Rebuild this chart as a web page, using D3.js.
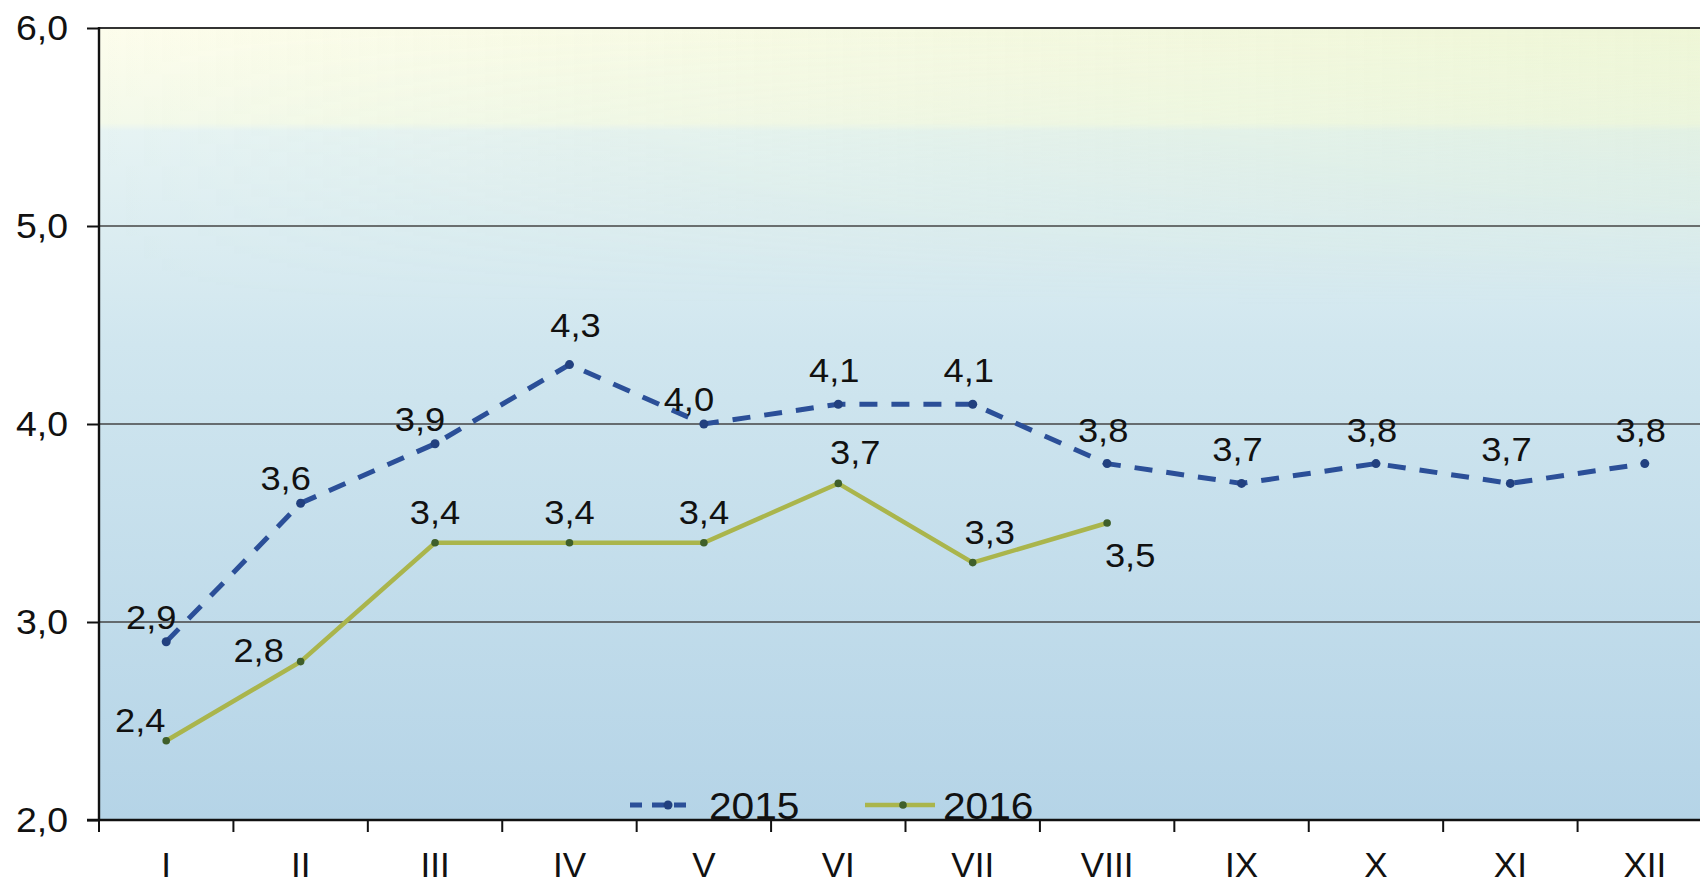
<!DOCTYPE html>
<html>
<head>
<meta charset="utf-8">
<script src="https://cdn.jsdelivr.net/npm/d3@7"></script>
<style>
  html, body { margin: 0; padding: 0; background: #fff; }
  svg { display: block; font-family: "Liberation Sans", Arial, sans-serif; }
  .wide { transform-box: fill-box; transform-origin: center; transform: scaleX(1.1); }
  .ywide { transform-box: fill-box; transform-origin: right; transform: scaleX(1.07); }
  .lwide { transform-box: fill-box; transform-origin: left; transform: scaleX(1.1); }
</style>
</head>
<body>
<div id="chart"></div>
<script>
// data
var months = ["I", "II", "III", "IV", "V", "VI", "VII", "VIII", "IX", "X", "XI", "XII"];
var values2015 = [2.9, 3.6, 3.9, 4.3, 4.0, 4.1, 4.1, 3.8, 3.7, 3.8, 3.7, 3.8];
var values2016 = [2.4, 2.8, 3.4, 3.4, 3.4, 3.7, 3.3, 3.5];
var yTicks = [2, 3, 4, 5, 6];
// where each data label sits relative to its point
var place2015 = ["upleft", "upleft", "upleft", "upright", "upleft", "above", "above", "above", "above", "above", "above", "above"];
var place2016 = ["left", "left2", "above", "above", "above", "right", "right", "below"];

var width = 1700, height = 886;
var margin = { top: 28, right: -12, bottom: 66, left: 99 };
var fontFamily = "Liberation Sans, Arial, sans-serif";

var svg = d3.select("#chart")
            .append("svg")
            .attr("width", width)
            .attr("height", height);

var x = d3.scaleBand()
          .domain(months)
          .range([margin.left, width - margin.right]);

var y = d3.scaleLinear()
          .domain([2, 6])
          .range([height - margin.bottom, margin.top]);

var fmt = function (v) { return d3.format(".1f")(v).replace(".", ","); };

// background gradient
var defs = svg.append("defs");
var grad = defs.append("linearGradient")
               .attr("id", "bg")
               .attr("x1", 0).attr("y1", 0).attr("x2", 0).attr("y2", 1);
[[0, "#fdfdec"], [0.12, "#f3f9ea"], [0.13, "#e6f3f3"], [0.4, "#d0e6ef"], [1, "#b5d4e7"]]
  .forEach(function (s) {
      grad.append("stop").attr("offset", s[0]).attr("stop-color", s[1]);
  });
var grad2 = defs.append("linearGradient")
                .attr("id", "bg2")
                .attr("x1", 0).attr("y1", 0).attr("x2", 1).attr("y2", 0);
grad2.append("stop").attr("offset", 0).attr("stop-color", "#d4eab0").attr("stop-opacity", 0);
grad2.append("stop").attr("offset", 1).attr("stop-color", "#d4eab0").attr("stop-opacity", 0.35);
var grad3 = defs.append("linearGradient")
                .attr("id", "fade")
                .attr("x1", 0).attr("y1", 0).attr("x2", 0).attr("y2", 1);
grad3.append("stop").attr("offset", 0).attr("stop-color", "#fff").attr("stop-opacity", 1);
grad3.append("stop").attr("offset", 0.35).attr("stop-color", "#fff").attr("stop-opacity", 0);
var mask = defs.append("mask").attr("id", "topmask");
mask.append("rect")
    .attr("x", margin.left).attr("y", y(6))
    .attr("width", width - margin.left).attr("height", y(2) - y(6))
    .attr("fill", "url(#fade)");

svg.append("rect")
   .attr("x", margin.left)
   .attr("y", y(6))
   .attr("width", width - margin.left)
   .attr("height", y(2) - y(6))
   .attr("fill", "url(#bg)");

svg.append("rect")
   .attr("x", margin.left)
   .attr("y", y(6))
   .attr("width", width - margin.left)
   .attr("height", y(2) - y(6))
   .attr("fill", "url(#bg2)")
   .attr("mask", "url(#topmask)");

// gridlines
svg.append("g")
   .selectAll("line")
   .data(yTicks.filter(function (d) { return d > 2; }))
   .enter()
   .append("line")
   .attr("x1", margin.left)
   .attr("x2", width)
   .attr("y1", function (d) { return y(d); })
   .attr("y2", function (d) { return y(d); })
   .attr("stroke", function (d) { return d === 6 ? "#333" : "#444"; })
   .attr("stroke-width", function (d) { return d === 6 ? 2.2 : 1.4; });

// axes
var yAxis = d3.axisLeft(y)
              .tickValues(yTicks)
              .tickSize(12)
              .tickPadding(19)
              .tickFormat(fmt);

var gy = svg.append("g")
            .attr("transform", "translate(" + margin.left + ",0)")
            .call(yAxis);
gy.select(".domain").remove();
gy.selectAll(".tick line").attr("stroke", "#111").attr("stroke-width", 2);
gy.selectAll(".tick text")
  .attr("class", "ywide")
  .attr("font-size", 35)
  .attr("fill", "#111")
  .attr("font-family", fontFamily);

svg.append("line")
   .attr("x1", margin.left).attr("x2", margin.left)
   .attr("y1", y(6) - 1).attr("y2", y(2) + 1)
   .attr("stroke", "#111").attr("stroke-width", 2.4);

var xAxis = d3.axisBottom(x)
              .tickSize(0)
              .tickPadding(32);

var gx = svg.append("g")
            .attr("transform", "translate(0," + y(2) + ")")
            .call(xAxis);
gx.select(".domain").remove();
gx.selectAll(".tick text")
  .attr("font-size", 35)
  .attr("fill", "#111")
  .attr("font-family", fontFamily);

svg.append("line")
   .attr("x1", margin.left - 12).attr("x2", width)
   .attr("y1", y(2)).attr("y2", y(2))
   .attr("stroke", "#111").attr("stroke-width", 2.4);

// band boundary ticks
svg.append("g")
   .selectAll("line")
   .data(months)
   .enter()
   .append("line")
   .attr("x1", function (d) { return x(d); })
   .attr("x2", function (d) { return x(d); })
   .attr("y1", y(2))
   .attr("y2", y(2) + 12)
   .attr("stroke", "#111")
   .attr("stroke-width", 2);

var cx = function (d, i) { return x(months[i]) + x.bandwidth() / 2; };

var line = d3.line()
             .x(function (d, i) { return cx(d, i); })
             .y(function (d) { return y(d); });

// 2015 series
svg.append("path")
   .datum(values2015)
   .attr("d", line)
   .attr("fill", "none")
   .attr("stroke", "#2b4f98")
   .attr("stroke-width", 5)
   .attr("stroke-dasharray", "18,14");

svg.append("g")
   .selectAll("circle")
   .data(values2015)
   .enter()
   .append("circle")
   .attr("cx", cx)
   .attr("cy", function (d) { return y(d); })
   .attr("r", 4.5)
   .attr("fill", "#22407f");

// 2016 series
svg.append("path")
   .datum(values2016)
   .attr("d", line)
   .attr("fill", "none")
   .attr("stroke", "#aab54c")
   .attr("stroke-width", 4.5);

svg.append("g")
   .selectAll("circle")
   .data(values2016)
   .enter()
   .append("circle")
   .attr("cx", cx)
   .attr("cy", function (d) { return y(d); })
   .attr("r", 3.8)
   .attr("fill", "#3f5f2a");

// label offsets by placement
var off = {
    upleft:  [-15, -13],
    upright: [6, -28],
    above:   [-4, -22],
    left:    [-26, -9],
    left2:   [-42, 0],
    above16: [0, -19],
    right:   [17, -19],
    below:   [23, 44]
};

svg.append("g")
   .selectAll("text")
   .data(values2015)
   .enter()
   .append("text")
   .attr("class", "wide")
   .attr("x", function (d, i) { return cx(d, i) + off[place2015[i]][0]; })
   .attr("y", function (d, i) { return y(d) + off[place2015[i]][1]; })
   .attr("text-anchor", "middle")
   .attr("font-size", 33)
   .attr("fill", "#111")
   .text(fmt);

svg.append("g")
   .selectAll("text")
   .data(values2016)
   .enter()
   .append("text")
   .attr("class", "wide")
   .attr("x", function (d, i) {
       var p = place2016[i] === "above" ? "above16" : place2016[i];
       return cx(d, i) + off[p][0];
   })
   .attr("y", function (d, i) {
       var p = place2016[i] === "above" ? "above16" : place2016[i];
       return y(d) + off[p][1];
   })
   .attr("text-anchor", "middle")
   .attr("font-size", 33)
   .attr("fill", "#111")
   .text(fmt);

// legend
var legend = svg.append("g").attr("transform", "translate(630," + (y(2) - 15) + ")");

legend.append("line")
      .attr("x1", 0).attr("x2", 63).attr("y1", 0).attr("y2", 0)
      .attr("stroke", "#2b4f98").attr("stroke-width", 5)
      .attr("stroke-dasharray", "12,10");
legend.append("circle").attr("cx", 38).attr("cy", 0).attr("r", 4.5).attr("fill", "#22407f");
legend.append("text")
      .attr("class", "lwide")
      .attr("x", 79).attr("y", 14)
      .attr("font-size", 37).attr("fill", "#111")
      .text("2015");

legend.append("line")
      .attr("x1", 235).attr("x2", 305).attr("y1", 0).attr("y2", 0)
      .attr("stroke", "#aab54c").attr("stroke-width", 4.5);
legend.append("circle").attr("cx", 273).attr("cy", 0).attr("r", 3.8).attr("fill", "#3f5f2a");
legend.append("text")
      .attr("class", "lwide")
      .attr("x", 313).attr("y", 14)
      .attr("font-size", 37).attr("fill", "#111")
      .text("2016");
</script>
</body>
</html>
